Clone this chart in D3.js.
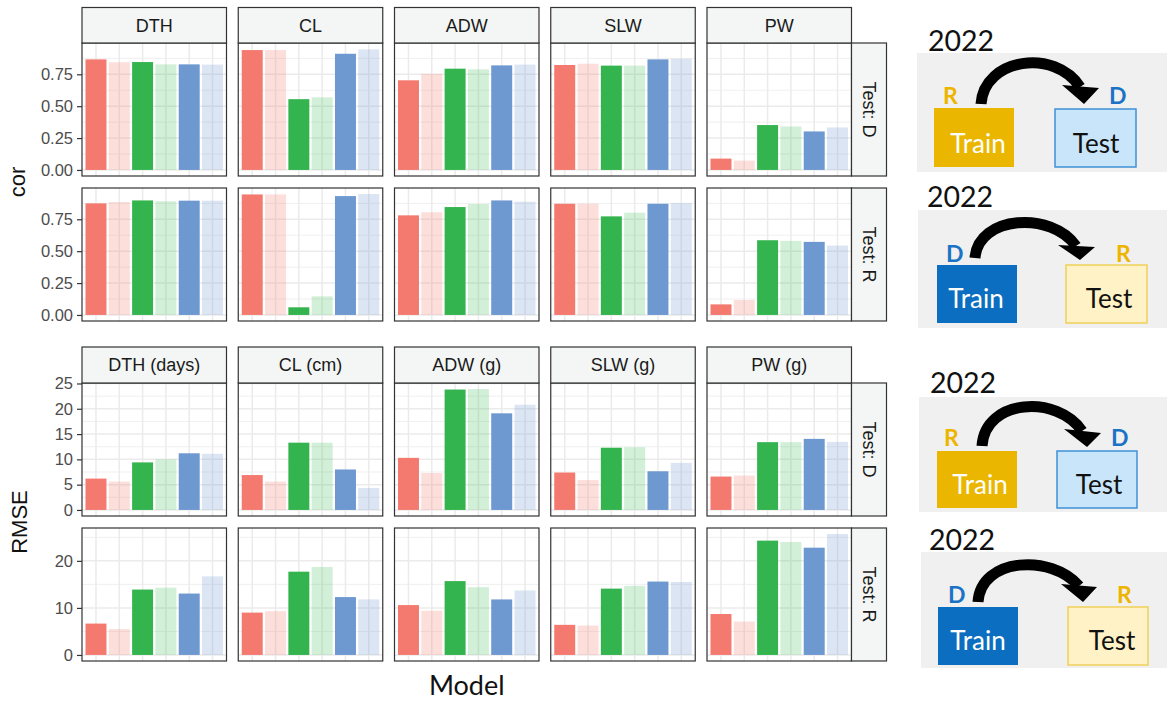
<!DOCTYPE html>
<html><head><meta charset="utf-8">
<script src="https://cdn.jsdelivr.net/npm/d3@7"></script>
<style>body{margin:0;background:#fff} svg{display:block}</style>
</head><body>
<svg id="chart" width="1167" height="702"></svg>
<script>
// ---------------- DATA ----------------
const models = ["M1","M2","M3","M4","M5","M6"];
const traits = ["DTH","CL","ADW","SLW","PW"];
const rmseStrips = ["DTH (days)","CL (cm)","ADW (g)","SLW (g)","PW (g)"];
const testRows = ["Test: D","Test: R"];

const corTestD = [
  [0.867,0.844,0.846,0.828,0.828,0.826],
  [0.940,0.940,0.555,0.570,0.911,0.945],
  [0.703,0.753,0.794,0.789,0.820,0.826],
  [0.823,0.833,0.818,0.818,0.867,0.872],
  [0.089,0.073,0.352,0.341,0.302,0.333]];
const corTestR = [
  [0.875,0.885,0.898,0.891,0.896,0.896],
  [0.945,0.945,0.060,0.146,0.932,0.948],
  [0.781,0.805,0.846,0.870,0.898,0.888],
  [0.872,0.872,0.773,0.802,0.872,0.878],
  [0.083,0.117,0.586,0.581,0.573,0.544]];
const rmseTestD = [
  [6.2,5.6,9.4,10.0,11.2,11.1],
  [6.9,5.6,13.3,13.3,8.0,4.35],
  [10.3,7.3,23.8,23.9,19.1,20.8],
  [7.4,5.9,12.3,12.4,7.65,9.3],
  [6.6,6.8,13.4,13.4,14.05,13.45]];
const rmseTestR = [
  [6.67,5.5,13.9,14.3,13.05,16.7],
  [9.0,9.3,17.7,18.7,12.3,11.8],
  [10.6,9.4,15.7,14.4,11.8,13.7],
  [6.4,6.24,14.1,14.7,15.6,15.5],
  [8.7,7.1,24.3,24.0,22.8,25.7]];

const corTicks = [0,0.25,0.5,0.75];
const rmseTicksD = [0,5,10,15,20,25];
const rmseTicksR = [0,10,20];

const diagYears = ["2022","2022","2022","2022"];
const diagTrain = ["R","D","R","D"];
const diagTest  = ["D","R","D","R"];

// ---------------- STYLES ----------------
const modelColors = ["#F47A70","#F47A70","#34B44E","#34B44E","#6E98D0","#6E98D0"];
const modelOpacity = [1,0.25,1,0.22,1,0.25];
const setStyle = {
  R:{label:"#EDB500", trainFill:"#EAB600", testFill:"#FFF2C6", testStroke:"#F0CF5A"},
  D:{label:"#1A73C4", trainFill:"#0B6EC0", testFill:"#C8E5FA", testStroke:"#3F90D6"}
};
const stripFill = "#F3F6F4", frame = "#333333", gridCol = "#EBEBEB";
const fontR = "'Liberation Sans', Arial, sans-serif";
const fontC = "Lato, 'Open Sans', sans-serif";

const svg = d3.select("#chart");

// ---------------- LAYOUT ----------------
const X0 = 82, STEP = 156.25, PW = 144.5, RSW = 35;
const blocks = [
  {stripTop:7.5, stripH:35.5, rowTops:[43,188], rowH:133, data:[corTestD,corTestR],
   strips:traits, ticks:[corTicks,corTicks], fmt:d3.format(".2f"), shared:true,
   title:"cor", titleX:25, titleSize:22},
  {stripTop:347, stripH:36, rowTops:[383,528], rowH:133, data:[rmseTestD,rmseTestR],
   strips:rmseStrips, ticks:[rmseTicksD,rmseTicksR], fmt:d3.format("d"), shared:false,
   title:"RMSE", titleX:27, titleSize:22}
];

const x = d3.scaleBand().domain(models).range([0,PW]).paddingInner(0.1).paddingOuter(0.15);

blocks.forEach(b => {
  const allMax = d3.max(b.data.flat(2));
  b.data.forEach((rowData, r) => {
    const m = b.shared ? allMax : d3.max(rowData.flat());
    const top = b.rowTops[r];
    const y = d3.scaleLinear().domain([-0.05*m, 1.05*m]).range([top + b.rowH, top]);
    const ticks = b.ticks[r];
    const stepT = ticks[1]-ticks[0];
    const minors = [];
    for (let v = ticks[0] + stepT/2; v < y.domain()[1]; v += stepT) minors.push(v);

    traits.forEach((t, c) => {
      const px = X0 + c*STEP;
      const g = svg.append("g").attr("transform", `translate(${px},0)`);
      g.append("rect").attr("x",0).attr("y",top).attr("width",PW).attr("height",b.rowH).attr("fill","#fff");
      g.selectAll(".mn").data(minors).join("line")
        .attr("x1",0).attr("x2",PW).attr("y1",d=>y(d)).attr("y2",d=>y(d))
        .attr("stroke",gridCol).attr("stroke-width",0.8);
      g.selectAll(".mj").data(ticks).join("line")
        .attr("x1",0).attr("x2",PW).attr("y1",d=>y(d)).attr("y2",d=>y(d))
        .attr("stroke",gridCol).attr("stroke-width",1.5);
      g.selectAll(".vg").data(models).join("line")
        .attr("x1",d=>x(d)+x.bandwidth()/2).attr("x2",d=>x(d)+x.bandwidth()/2)
        .attr("y1",top).attr("y2",top+b.rowH)
        .attr("stroke",gridCol).attr("stroke-width",1.5);
      g.selectAll(".bar").data(rowData[c]).join("rect")
        .attr("x",(d,i)=>x(models[i]))
        .attr("width",x.bandwidth())
        .attr("y",d=>y(d))
        .attr("height",d=>y(0)-y(d))
        .attr("fill",(d,i)=>modelColors[i])
        .attr("fill-opacity",(d,i)=>modelOpacity[i]);
      g.append("rect").attr("x",0).attr("y",top).attr("width",PW).attr("height",b.rowH)
        .attr("fill","none").attr("stroke",frame).attr("stroke-width",1.2);
      if (r === 0) {
        g.append("rect").attr("x",0).attr("y",b.stripTop).attr("width",PW).attr("height",b.stripH)
          .attr("fill",stripFill).attr("stroke",frame).attr("stroke-width",1.2);
        g.append("text").attr("x",PW/2).attr("y",b.stripTop+b.stripH/2).attr("dy","0.36em")
          .attr("text-anchor","middle").attr("font-family",fontR).attr("font-size",18)
          .attr("fill","#1A1A1A").text(b.strips[c]);
      }
    });
    const rx = X0 + 4*STEP + PW;
    svg.append("rect").attr("x",rx).attr("y",top).attr("width",RSW).attr("height",b.rowH)
      .attr("fill",stripFill).attr("stroke",frame).attr("stroke-width",1.2);
    svg.append("text").attr("transform",`translate(${rx+RSW/2},${top+b.rowH/2}) rotate(90)`)
      .attr("dy","0.36em").attr("text-anchor","middle").attr("font-family",fontR)
      .attr("font-size",18).attr("fill","#1A1A1A").text(testRows[r]);
    const ax = svg.append("g").attr("transform",`translate(${X0},0)`)
      .call(d3.axisLeft(y).tickValues(ticks).tickSize(5).tickPadding(4).tickFormat(b.fmt));
    ax.select(".domain").remove();
    ax.selectAll(".tick line").attr("stroke",frame).attr("stroke-width",1.2);
    ax.selectAll(".tick text").attr("font-family",fontR).attr("font-size",16.5).attr("fill","#4D4D4D");
  });
  const midY = (b.rowTops[0] + b.rowTops[1] + b.rowH)/2;
  svg.append("text").attr("transform",`translate(${b.titleX},${midY}) rotate(-90)`)
    .attr("text-anchor","middle").attr("font-family",fontR).attr("font-size",b.titleSize)
    .attr("fill","#111").text(b.title);
});

svg.append("text").attr("x",(X0 + X0+4*STEP+PW)/2).attr("y",695).attr("text-anchor","middle")
  .attr("font-family",fontC).attr("font-size",27).attr("fill","#111").text("Model");

// ---------------- DIAGRAMS ----------------
const diagLayout = [
  {box:[917,53,250,119], year:[928,51], train:[934,108,80,59], test:[1055,109,81,58],
   trainLbl:[943,104], testLbl:[1109,104], trainTxt:[978,153], testTxt:[1096,153],
   arrow:{s:[981,104], c1:[984,58], c2:[1055,48], e:[1080,87], wl:[1062,85], wr:[1099,88], tip:[1084,104]}},
  {box:[918,210,249,118], year:[927,207], train:[937,265,80,58], test:[1066,265,81,58],
   trainLbl:[946,262], testLbl:[1116,262], trainTxt:[976,308], testTxt:[1109,308],
   arrow:{s:[975,258], c1:[978,215], c2:[1052,211], e:[1076,246], wl:[1058,245], wr:[1095,247], tip:[1080,260]}},
  {box:[919,397,248,115], year:[930,393], train:[937,451,80,57], test:[1057,451,80,57],
   trainLbl:[944,446], testLbl:[1111,446], trainTxt:[980,494], testTxt:[1099,494],
   arrow:{s:[982,446], c1:[985,398], c2:[1058,395], e:[1082,431], wl:[1064,429], wr:[1101,433], tip:[1087,447]}},
  {box:[921,552,246,116], year:[929,550], train:[938,607,80,58], test:[1068,607,80,58],
   trainLbl:[948,603], testLbl:[1117,603], trainTxt:[978,650], testTxt:[1112,650],
   arrow:{s:[978,602], c1:[981,557], c2:[1052,554], e:[1079,586], wl:[1061,584], wr:[1097,587], tip:[1083,602]}}
];

diagLayout.forEach((L, i) => {
  const tr = setStyle[diagTrain[i]], te = setStyle[diagTest[i]];
  const g = svg.append("g");
  g.append("rect").attr("x",L.box[0]).attr("y",L.box[1]).attr("width",L.box[2]).attr("height",L.box[3]).attr("fill","#F0F0F0");
  g.append("text").attr("x",L.year[0]).attr("y",L.year[1]).attr("font-family",fontC).attr("font-size",28.5)
    .attr("fill","#111").text(diagYears[i]);
  g.append("rect").attr("x",L.train[0]).attr("y",L.train[1]).attr("width",L.train[2]).attr("height",L.train[3]).attr("fill",tr.trainFill);
  g.append("rect").attr("x",L.test[0]).attr("y",L.test[1]).attr("width",L.test[2]).attr("height",L.test[3])
    .attr("fill",te.testFill).attr("stroke",te.testStroke).attr("stroke-width",1.5);
  g.append("text").attr("x",L.trainTxt[0]).attr("y",L.trainTxt[1]).attr("text-anchor","middle")
    .attr("font-family",fontC).attr("font-size",26).attr("fill","#fff").text("Train");
  g.append("text").attr("x",L.testTxt[0]).attr("y",L.testTxt[1]).attr("text-anchor","middle")
    .attr("font-family",fontC).attr("font-size",26).attr("fill","#111").text("Test");
  g.append("text").attr("x",L.trainLbl[0]).attr("y",L.trainLbl[1]).attr("font-family",fontC)
    .attr("font-weight","bold").attr("font-size",23).attr("fill",tr.label).text(diagTrain[i]);
  g.append("text").attr("x",L.testLbl[0]).attr("y",L.testLbl[1]).attr("font-family",fontC)
    .attr("font-weight","bold").attr("font-size",23).attr("fill",te.label).text(diagTest[i]);
  const a = L.arrow;
  const p = d3.path();
  p.moveTo(a.s[0], a.s[1]);
  p.bezierCurveTo(a.c1[0], a.c1[1], a.c2[0], a.c2[1], a.e[0], a.e[1]);
  g.append("path").attr("d", p.toString()).attr("fill","none").attr("stroke","#000").attr("stroke-width",11);
  g.append("path").attr("d", `M${a.wl[0]},${a.wl[1]}L${a.wr[0]},${a.wr[1]}L${a.tip[0]},${a.tip[1]}Z`).attr("fill","#000");
});
</script>
</body></html>
